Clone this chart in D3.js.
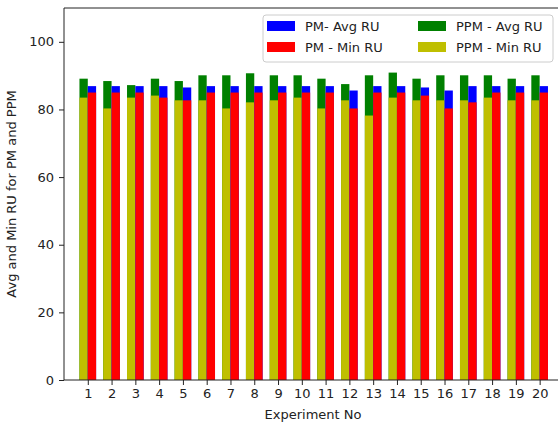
<!DOCTYPE html>
<html>
<head>
<meta charset="utf-8">
<script src="https://cdn.jsdelivr.net/npm/d3@7"></script>
<style>
  html, body { margin: 0; padding: 0; background: #fff; }
  svg { display: block; font-family: "DejaVu Sans", sans-serif; }
</style>
</head>
<body>
<svg id="chart" width="558" height="426"></svg>
<script>
const experiments = d3.range(1, 21);
const pmAvg  = [86.9, 86.9, 86.9, 86.9, 86.5, 86.9, 86.9, 86.9, 86.9, 86.9, 86.9, 85.6, 86.9, 86.9, 86.5, 85.6, 86.9, 86.9, 86.9, 86.9];
const pmMin  = [85.0, 85.0, 85.0, 83.5, 82.7, 85.0, 85.0, 85.0, 85.0, 85.0, 85.0, 80.3, 85.0, 85.0, 84.1, 80.3, 82.1, 85.0, 85.0, 85.0];
const ppmAvg = [89.1, 88.4, 87.2, 89.1, 88.4, 90.1, 90.1, 90.7, 90.1, 90.1, 89.1, 87.5, 90.1, 90.9, 89.1, 90.1, 90.1, 90.1, 89.1, 90.1];
const ppmMin = [83.5, 80.3, 83.5, 84.1, 82.7, 82.7, 80.3, 82.1, 82.7, 83.5, 80.3, 82.7, 78.2, 83.5, 82.7, 82.7, 82.7, 83.5, 82.7, 82.7];
const yTicks = [0, 20, 40, 60, 80, 100];
const legendLabels = ["PM- Avg RU", "PM - Min RU", "PPM - Avg RU", "PPM - Min RU"];
const colors = { pmAvg: "#0000ff", pmMin: "#ff0000", ppmAvg: "#008000", ppmMin: "#bfbf00" };

(function () {
const svg = d3.select("#chart");
const mLeft = 64, mRight = 562, mTop = 8, mBottom = 380;
const x = d3.scaleLinear().domain([0, 20.94]).range([mLeft, mRight]);
const y = d3.scaleLinear().domain([0, 110]).range([mBottom, mTop]);
const bw = 0.35;

function bars(vals, color, side) {
  svg.append("g").selectAll("rect").data(vals).enter().append("rect")
    .attr("x", (d, i) => side < 0 ? x(experiments[i] - bw) : x(experiments[i]))
    .attr("width", x(bw) - x(0))
    .attr("y", d => y(d))
    .attr("height", d => y(0) - y(d))
    .attr("fill", color);
}
bars(ppmAvg, colors.ppmAvg, -1);
bars(ppmMin, colors.ppmMin, -1);
bars(pmAvg, colors.pmAvg, 1);
bars(pmMin, colors.pmMin, 1);

// axes
const xAxis = d3.axisBottom(x).tickValues(experiments).tickSize(5).tickPadding(4).tickFormat(d3.format("d"));
const gx = svg.append("g").attr("transform", `translate(0,${mBottom})`).call(xAxis);
gx.select(".domain").remove();
gx.selectAll("text").attr("font-size", 13).attr("fill", "#222").attr("font-family", "DejaVu Sans");
gx.selectAll("line").attr("stroke", "#222");

const yAxis = d3.axisLeft(y).tickValues(yTicks).tickSize(5).tickPadding(5);
const gy = svg.append("g").attr("transform", `translate(${mLeft},0)`).call(yAxis);
gy.select(".domain").remove();
gy.selectAll("text").attr("font-size", 13).attr("fill", "#222").attr("font-family", "DejaVu Sans");
gy.selectAll("line").attr("stroke", "#222");

// spines
svg.append("line").attr("x1", mLeft).attr("x2", mLeft).attr("y1", mTop).attr("y2", mBottom).attr("stroke", "#222").attr("stroke-width", 1);
svg.append("line").attr("x1", mLeft).attr("x2", 558).attr("y1", mBottom).attr("y2", mBottom).attr("stroke", "#222").attr("stroke-width", 1);
svg.append("line").attr("x1", mLeft).attr("x2", 558).attr("y1", mTop).attr("y2", mTop).attr("stroke", "#222").attr("stroke-width", 1);

// axis labels
svg.append("text").attr("x", (mLeft + mRight) / 2).attr("y", 419).attr("text-anchor", "middle")
  .attr("font-size", 13).attr("fill", "#222").text("Experiment No");
svg.append("text").attr("transform", `translate(16,${(mTop + mBottom) / 2}) rotate(-90)`).attr("text-anchor", "middle")
  .attr("font-size", 13).attr("fill", "#222").text("Avg and Min RU for PM and PPM");

// legend
const lg = svg.append("g");
lg.append("rect").attr("x", 263).attr("y", 15).attr("width", 290).attr("height", 47).attr("rx", 3)
  .attr("fill", "#fff").attr("fill-opacity", 0.8).attr("stroke", "#ccc");
const legendColors = [colors.pmAvg, colors.pmMin, colors.ppmAvg, colors.ppmMin];
legendLabels.forEach((lab, i) => {
  const col = Math.floor(i / 2), row = i % 2;
  const px = col === 0 ? 267 : 418;
  const py = row === 0 ? 21 : 42;
  lg.append("rect").attr("x", px).attr("y", py).attr("width", 28).attr("height", 10).attr("fill", legendColors[i]);
  lg.append("text").attr("x", px + 38).attr("y", py + 10).attr("font-size", 13).attr("fill", "#222").text(lab);
});
})();
</script>
</body>
</html>
